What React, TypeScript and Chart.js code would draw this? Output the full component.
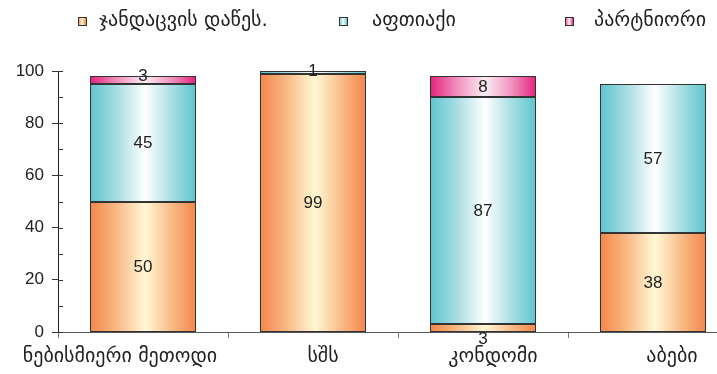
import React, { useEffect, useRef } from "react";
import { Chart, registerables } from "chart.js";

Chart.register(...registerables);

// Where people obtained their contraception, percent by method
const categories = ["ნებისმიერი მეთოდი", "სშს", "კონდომი", "აბები"];
const seriesNames = ["ჯანდაცვის დაწეს.", "აფთიაქი", "პარტნიორი"];
const healthFacility = [50, 99, 3, 38];
const pharmacy = [45, 1, 87, 57];
const partner: (number | null)[] = [3, null, 8, null];
const yMax = 100;
const yStep = 20;

const LATIN = "'Liberation Sans', Arial, sans-serif";
const GEO = "'DejaVu Sans', 'Liberation Sans', sans-serif";
const BAR_PCT = 0.62;

// edge colour, shoulder colour, highlight colour for each series
const palettes = [
  ["#f2874a", "#f9b985", "#fff8d4"],
  ["#5ec5cf", "#a6dde2", "#ffffff"],
  ["#e4237d", "#f08fbd", "#fbeef4"],
];

function makeGradient(c: CanvasRenderingContext2D, x0: number, x1: number, p: string[]) {
  const g = c.createLinearGradient(x0, 0, x1, 0);
  g.addColorStop(0, p[0]);
  g.addColorStop(0.25, p[1]);
  g.addColorStop(0.52, p[2]);
  g.addColorStop(0.78, p[1]);
  g.addColorStop(1, p[0]);
  return g;
}

function barFill(si: number) {
  return (ctx: any) => {
    const chart = ctx.chart;
    const xs = chart.scales && chart.scales.x;
    if (!xs || ctx.type !== "data" || !chart.chartArea) return palettes[si][0];
    const cx = xs.getPixelForValue(ctx.dataIndex);
    const half = ((xs.width / categories.length) * BAR_PCT) / 2;
    return makeGradient(chart.ctx, cx - half, cx + half, palettes[si]);
  };
}

// Legend row across the top
const legendPlugin = {
  id: "topLegend",
  afterDraw(chart: any) {
    const c = chart.ctx as CanvasRenderingContext2D;
    const boxX = [78, 339, 565];
    const textX = [99, 372, 594];
    const y = 21;
    const s = 8;
    c.save();
    seriesNames.forEach((name, i) => {
      c.fillStyle = makeGradient(c, boxX[i], boxX[i] + s, palettes[i]);
      c.fillRect(boxX[i], y - s / 2, s, s);
      c.strokeStyle = "#333";
      c.lineWidth = 1;
      c.strokeRect(boxX[i] + 0.5, y - s / 2 + 0.5, s, s);
      c.fillStyle = "#222";
      c.font = `20px ${GEO}`;
      c.textBaseline = "middle";
      c.textAlign = "left";
      c.fillText(name, textX[i], y);
    });
    c.restore();
  },
};

// Category names under the axis, nudged sideways per label
const categoryLabelPlugin = {
  id: "categoryLabels",
  afterDraw(chart: any) {
    const c = chart.ctx as CanvasRenderingContext2D;
    const xs = chart.scales.x;
    const nudge = [-23, 10, 10, 19];
    c.save();
    c.font = `20px ${GEO}`;
    c.fillStyle = "#222";
    c.textAlign = "center";
    c.textBaseline = "middle";
    categories.forEach((name, i) => {
      c.fillText(name, xs.getPixelForValue(i) + nudge[i], 357);
    });
    c.restore();
  },
};

// Short inner tick marks every 10 units on the value axis
const innerTicksPlugin = {
  id: "innerTicks",
  afterDraw(chart: any) {
    const c = chart.ctx as CanvasRenderingContext2D;
    const ys = chart.scales.y;
    const left = chart.chartArea.left;
    c.save();
    c.strokeStyle = "#333";
    c.lineWidth = 1;
    for (let v = 0; v <= yMax; v += yStep / 2) {
      const py = Math.round(ys.getPixelForValue(v)) + 0.5;
      c.beginPath();
      c.moveTo(left, py);
      c.lineTo(left + 5, py);
      c.stroke();
    }
    c.restore();
  },
};

// Outlines and value labels on every stacked segment
const valueLabelPlugin = {
  id: "valueLabels",
  afterDatasetsDraw(chart: any) {
    const c = chart.ctx as CanvasRenderingContext2D;
    const n = chart.data.datasets.length;
    c.save();
    c.strokeStyle = "#333";
    c.lineWidth = 1;
    for (let di = 0; di < n; di++) {
      const meta = chart.getDatasetMeta(di);
      const data = chart.data.datasets[di].data as (number | null)[];
      meta.data.forEach((el: any, i: number) => {
        if (data[i] == null || data[i] === 0) return;
        const x0 = Math.round(el.x - el.width / 2) + 0.5;
        const x1 = Math.round(el.x + el.width / 2) - 0.5;
        const y0 = Math.round(Math.min(el.y, el.base)) + 0.5;
        const y1 = Math.round(Math.max(el.y, el.base)) - 0.5;
        c.strokeRect(x0, y0, x1 - x0, y1 - y0);
      });
    }
    c.font = `17px ${LATIN}`;
    c.fillStyle = "#222";
    c.textAlign = "center";
    c.textBaseline = "middle";
    for (let di = 0; di < n; di++) {
      const meta = chart.getDatasetMeta(di);
      const data = chart.data.datasets[di].data as (number | null)[];
      meta.data.forEach((el: any, i: number) => {
        const v = data[i];
        if (v == null || v === 0) return;
        const top = Math.min(el.y, el.base);
        const bottom = Math.max(el.y, el.base);
        let ly = (top + bottom) / 2;
        if (bottom - top < 14) {
          let isTop = true;
          for (let k = di + 1; k < n; k++) {
            const w = (chart.data.datasets[k].data as (number | null)[])[i];
            if (w != null && w !== 0) isTop = false;
          }
          ly = isTop ? top - 1 : bottom + 7;
        }
        c.fillText(String(v), el.x, ly + 1);
      });
    }
    c.restore();
  },
};

export default function App() {
  const ref = useRef<HTMLCanvasElement | null>(null);

  useEffect(() => {
    if (!ref.current) return;
    const chart = new Chart(ref.current, {
      type: "bar",
      data: {
        labels: categories,
        datasets: [healthFacility, pharmacy, partner].map((d, si) => ({
          label: seriesNames[si],
          data: d,
          backgroundColor: barFill(si),
          borderWidth: 0,
          barPercentage: BAR_PCT,
          categoryPercentage: 1,
          clip: false as any,
        })),
      },
      options: {
        responsive: false,
        animation: false,
        events: [],
        layout: { padding: { top: 71, right: 2, left: 0, bottom: 0 } },
        plugins: { legend: { display: false }, tooltip: { enabled: false } },
        scales: {
          x: {
            stacked: true,
            afterFit: (s: any) => {
              s.height = 42;
            },
            grid: {
              display: true,
              drawOnChartArea: false,
              drawTicks: true,
              tickLength: 6,
              color: "#777",
              offset: true,
            },
            border: { display: true, color: "#555", width: 1 },
            ticks: { display: false, autoSkip: false },
          },
          y: {
            stacked: true,
            min: 0,
            max: yMax,
            afterFit: (s: any) => {
              s.width = 58;
            },
            grid: {
              display: true,
              drawOnChartArea: false,
              drawTicks: true,
              tickLength: 6,
              color: "#333",
            },
            border: { display: true, color: "#222", width: 1 },
            ticks: {
              stepSize: yStep,
              color: "#222",
              font: { family: LATIN, size: 17 },
              padding: 8,
            },
          },
        },
      },
      plugins: [valueLabelPlugin, innerTicksPlugin, categoryLabelPlugin, legendPlugin],
    });
    return () => chart.destroy();
  }, []);

  return (
    <div
      style={{
        position: "absolute",
        left: 0,
        top: 0,
        width: 717,
        height: 374,
        overflow: "hidden",
        background: "#fff",
      }}
    >
      <canvas ref={ref} width={740} height={374} style={{ display: "block" }} />
    </div>
  );
}
